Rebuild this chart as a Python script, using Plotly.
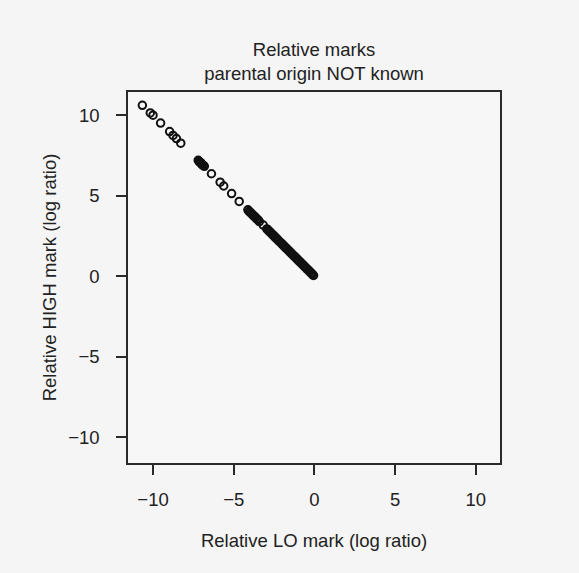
import plotly.graph_objects as go

# Relative LO mark (x) and Relative HIGH mark (y), log ratios
lo_mark = [-10.66, -10.17, -10.00, -9.53, -8.97, -8.76, -8.55, -8.28,
           -7.20, -7.15, -7.10, -7.05, -7.02, -6.97, -6.93, -6.88, -6.82,
           -6.38, -5.84, -5.62, -5.13, -4.66,
           -4.12, -4.05, -3.98, -3.92, -3.86, -3.80, -3.74, -3.68, -3.62, -3.56,
           -3.49, -3.41, -3.17, -2.95, -2.89, -2.82, -2.76, -2.70, -2.63, -2.57,
           -2.51, -2.45, -2.38, -2.32, -2.26, -2.20, -2.08, -2.02, -1.96, -1.90,
           -1.84, -1.78, -1.72, -1.66, -1.60, -1.54, -1.48, -1.42, -1.36, -1.30,
           -1.24, -1.18, -1.12, -1.06, -1.00, -0.94, -0.88, -0.82, -0.76, -0.70,
           -0.64, -0.58, -0.52, -0.46, -0.40, -0.34, -0.28, -0.22, -0.16, -0.10,
           -0.05]
high_mark = [10.62, 10.15, 10.01, 9.52, 8.99, 8.75, 8.56, 8.27,
             7.21, 7.14, 7.09, 7.06, 7.03, 6.96, 6.92, 6.89, 6.83,
             6.37, 5.85, 5.61, 5.14, 4.65,
             4.13, 4.04, 3.99, 3.91, 3.87, 3.79, 3.75, 3.67, 3.63, 3.55,
             3.50, 3.40, 3.18, 2.94, 2.90, 2.81, 2.77, 2.69, 2.64, 2.56,
             2.52, 2.44, 2.39, 2.31, 2.27, 2.19, 2.09, 2.01, 1.97, 1.89,
             1.85, 1.77, 1.73, 1.65, 1.61, 1.53, 1.49, 1.41, 1.37, 1.29,
             1.25, 1.17, 1.13, 1.05, 1.01, 0.93, 0.89, 0.81, 0.77, 0.69,
             0.65, 0.57, 0.53, 0.45, 0.41, 0.33, 0.29, 0.21, 0.17, 0.09,
             0.05]

tick_vals = [-10, -5, 0, 5, 10]
tick_text = ["\u221210", "\u22125", "0", "5", "10"]

FONT = "Liberation Sans, Arial, Helvetica, sans-serif"
INK = "#2a2a2a"
TXT = "#222222"
BG = "#f5f5f5"

fig = go.Figure()
fig.add_trace(go.Scatter(
    x=lo_mark, y=high_mark, mode="markers",
    marker=dict(symbol="circle-open", size=7.5, color="#111111",
                line=dict(width=2, color="#111111")),
    showlegend=False, hoverinfo="x+y"))

axis_common = dict(
    tickvals=tick_vals, ticktext=tick_text,
    showgrid=False, zeroline=False,
    showline=True, linecolor=INK, linewidth=1.5, mirror=True,
    ticks="outside", ticklen=10, tickwidth=1.5, tickcolor=INK,
    tickfont=dict(family=FONT, size=18.5, color=TXT),
)

fig.update_layout(
    width=579, height=573,
    margin=dict(l=128, r=79, t=92, b=110),
    paper_bgcolor=BG, plot_bgcolor="#f7f7f7",
    font=dict(family=FONT, size=18.5, color=TXT),
    title=dict(text="Relative marks<br>parental origin NOT known",
               x=(128 + 500) / 2 / 579, xanchor="center",
               yref="container", y=1 - 56 / 573, yanchor="top",
               font=dict(family=FONT, size=18.5, color=TXT)),
    xaxis=dict(range=[-11.55, 11.5], ticklabelstandoff=9,
               title=dict(text="Relative LO mark (log ratio)", standoff=25,
                          font=dict(family=FONT, size=18.5, color=TXT)),
               **axis_common),
    yaxis=dict(range=[-11.6, 11.45], ticklabelstandoff=13,
               title=dict(text="Relative HIGH mark (log ratio)", standoff=7,
                          font=dict(family=FONT, size=18.5, color=TXT)),
               **axis_common),
)

fig.write_html("out.html",
               config={"displayModeBar": False},
               post_script="document.body.style.margin='0';"
                           "document.body.style.background='" + BG + "';")
